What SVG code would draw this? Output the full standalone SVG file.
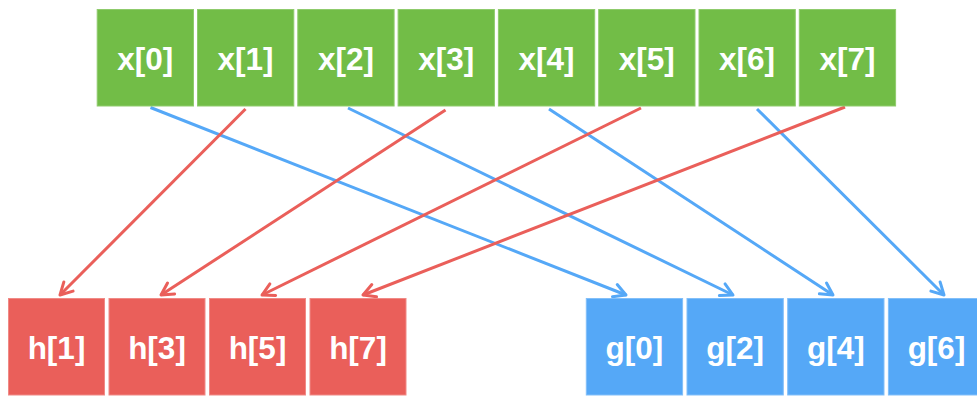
<svg xmlns="http://www.w3.org/2000/svg" width="977" height="397" viewBox="0 0 977 397">
<style>
.box{stroke-width:1}
.x{fill:#72BD47;stroke:#8FCB6C}
.h{fill:#EA5F5A;stroke:#F08A86}
.g{fill:#55A8F7;stroke:#82BFF9}
.t{font-family:"Liberation Sans",Arial,Helvetica,sans-serif;font-weight:bold;font-size:31.5px;fill:#fff;text-anchor:middle}
.cb{stroke:#55A8F7;stroke-width:3;fill:none;marker-end:url(#ab)}
.cr{stroke:#EA5F5A;stroke-width:3;fill:none;marker-end:url(#ar)}
</style>
<defs>
<marker id="ab" markerUnits="userSpaceOnUse" viewBox="-16 -10 20 20" refX="0" refY="0" markerWidth="20" markerHeight="20" orient="auto">
<path d="M-12,-6.5 L0,0 L-12,6.5" fill="none" stroke="#55A8F7" stroke-width="3" stroke-linecap="round" stroke-linejoin="round"/>
</marker>
<marker id="ar" markerUnits="userSpaceOnUse" viewBox="-16 -10 20 20" refX="0" refY="0" markerWidth="20" markerHeight="20" orient="auto">
<path d="M-12,-6.5 L0,0 L-12,6.5" fill="none" stroke="#EA5F5A" stroke-width="3" stroke-linecap="round" stroke-linejoin="round"/>
</marker>
</defs>
<rect width="977" height="397" fill="#fff"/>
<g id="connectors">
<line class="cb" x1="150.5" y1="107.5" x2="626" y2="295"/>
<line class="cr" x1="245.5" y1="109" x2="60" y2="295"/>
<line class="cb" x1="348" y1="108" x2="733" y2="295"/>
<line class="cr" x1="445.5" y1="110" x2="161" y2="295"/>
<line class="cb" x1="549" y1="109" x2="833" y2="295"/>
<line class="cr" x1="641" y1="108" x2="262" y2="295"/>
<line class="cb" x1="757" y1="109" x2="944" y2="295"/>
<line class="cr" x1="845" y1="107" x2="363" y2="295"/>
</g>
<g id="x0"><rect class="box x" x="97.2" y="9.5" width="96.3" height="96.5"/><text class="t" x="145.3" y="69.5">x[0]</text></g>
<g id="x1"><rect class="box x" x="197.5" y="9.5" width="96.3" height="96.5"/><text class="t" x="245.6" y="69.5">x[1]</text></g>
<g id="x2"><rect class="box x" x="297.8" y="9.5" width="96.3" height="96.5"/><text class="t" x="345.9" y="69.5">x[2]</text></g>
<g id="x3"><rect class="box x" x="398.1" y="9.5" width="96.3" height="96.5"/><text class="t" x="446.2" y="69.5">x[3]</text></g>
<g id="x4"><rect class="box x" x="498.4" y="9.5" width="96.3" height="96.5"/><text class="t" x="546.5" y="69.5">x[4]</text></g>
<g id="x5"><rect class="box x" x="598.7" y="9.5" width="96.3" height="96.5"/><text class="t" x="646.8" y="69.5">x[5]</text></g>
<g id="x6"><rect class="box x" x="699" y="9.5" width="96.3" height="96.5"/><text class="t" x="747.1" y="69.5">x[6]</text></g>
<g id="x7"><rect class="box x" x="799.3" y="9.5" width="96.3" height="96.5"/><text class="t" x="847.4" y="69.5">x[7]</text></g>
<g id="h1"><rect class="box h" x="8.5" y="298.5" width="96" height="96.5"/><text class="t" x="56.5" y="358.5">h[1]</text></g>
<g id="h3"><rect class="box h" x="109" y="298.5" width="96" height="96.5"/><text class="t" x="157" y="358.5">h[3]</text></g>
<g id="h5"><rect class="box h" x="209.5" y="298.5" width="96" height="96.5"/><text class="t" x="257.5" y="358.5">h[5]</text></g>
<g id="h7"><rect class="box h" x="310" y="298.5" width="96" height="96.5"/><text class="t" x="358" y="358.5">h[7]</text></g>
<g id="g0"><rect class="box g" x="586.3" y="298.5" width="96.3" height="96.5"/><text class="t" x="634.4" y="358.5">g[0]</text></g>
<g id="g2"><rect class="box g" x="687" y="298.5" width="96.3" height="96.5"/><text class="t" x="735.1" y="358.5">g[2]</text></g>
<g id="g4"><rect class="box g" x="787.7" y="298.5" width="96.3" height="96.5"/><text class="t" x="835.8" y="358.5">g[4]</text></g>
<g id="g6"><rect class="box g" x="888.4" y="298.5" width="96.3" height="96.5"/><text class="t" x="936.5" y="358.5">g[6]</text></g>
</svg>
